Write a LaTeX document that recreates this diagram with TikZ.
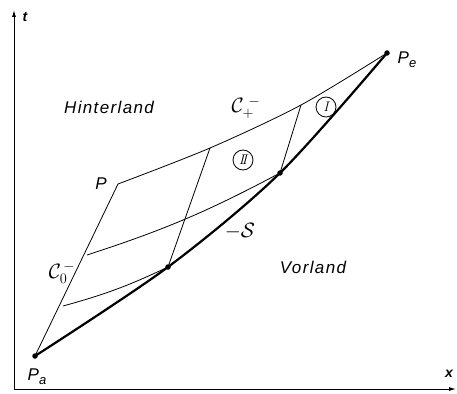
\documentclass[tikz,border=0pt]{standalone}
\usepackage{fontspec}
\setsansfont{Liberation Sans}
\newfontfamily\lblfont[LetterSpace=8]{Liberation Sans}
\usetikzlibrary{arrows.meta}
\newcommand{\lowsub}[1]{\raisebox{-4pt}{\fontsize{13}{13}\selectfont #1}}
\begin{document}
\begin{tikzpicture}[x=1pt,y=-1pt,
  thinline/.style={line width=0.8pt},
  shock/.style={line width=2.2pt},
  axisline/.style={line width=0.9pt},
  dot/.style={circle,fill=black,inner sep=0pt,minimum size=5.5pt},
  region/.style={font=\lblfont\itshape\fontsize{17}{17}\selectfont},
  ptlabel/.style={font=\sffamily\itshape\fontsize{17}{17}\selectfont,inner sep=1pt},
  axlabel/.style={font=\sffamily\itshape\bfseries\fontsize{14}{14}\selectfont},
  charlabel/.style={font=\fontsize{20}{20}\selectfont,inner sep=1pt},
  roman/.style={circle,draw,line width=0.8pt,minimum size=20pt,inner sep=0pt,font=\bfseries\fontsize{14}{14}\selectfont}]
\useasboundingbox (0,0) rectangle (457,393);
% points
\coordinate (O) at (14,389);
\coordinate (T) at (14,10);
\coordinate (X) at (456,389);
\coordinate (Pa) at (35,356);
\coordinate (Pe) at (387,53);
\coordinate (P) at (118,184);
\coordinate (D1) at (168,267);
\coordinate (D2) at (280,173);
\coordinate (A1) at (63,306);
\coordinate (A2) at (87,255);
\coordinate (B1) at (210,148);
\coordinate (B2) at (301,105);
% axes
\draw[axisline,{Latex[length=7pt,width=4pt]}-{Latex[length=7pt,width=4pt]}] (T) -- (O) -- (X);
\node[axlabel] (tl) at (25,17) {t};
\node[axlabel] (xl) at (449,374) {x};
% shock curve
\draw[shock] plot[smooth,tension=0.5] coordinates {(Pa) (D1) (D2) (Pe)};
% characteristics
\draw[thinline] (Pa) -- (P);
\draw[thinline] plot[smooth,tension=0.5] coordinates {(P) (B1) (B2) (Pe)};
\draw[thinline] (A1) to[bend right=5] (D1);
\draw[thinline] (A2) to[bend right=5] (D2);
\draw[thinline] (B1) -- (D1);
\draw[thinline] (B2) -- (D2);
% dots
\node[dot] (dPa) at (Pa) {};
\node[dot] (dPe) at (Pe) {};
\node[dot] (dD1) at (D1) {};
\node[dot] (dD2) at (D2) {};
% labels
\node[ptlabel] (lP) at (101,184) {P};
\node[ptlabel] (lPa) at (37,377) {P\lowsub{a}};
\node[ptlabel] (lPe) at (407,60) {P\lowsub{e}};
\node[region] (hint) at (109,107) {Hinterland};
\node[region] (vor) at (313,267) {Vorland};
\node[charlabel] (cp) at (246,108) {$\mathcal{C}_{+}^{\,\,-}$};
\node[charlabel] (c0) at (62,273) {$\mathcal{C}_{0}^{\,-}$};
\node[charlabel] (sl) at (240,231) {$-\mathcal{S}$};
\node[roman] (r1) at (326,107) {$\mathit{I}$};
\node[roman] (r2) at (243,160) {$\mathit{I\!I}$};
\end{tikzpicture}
\end{document}
